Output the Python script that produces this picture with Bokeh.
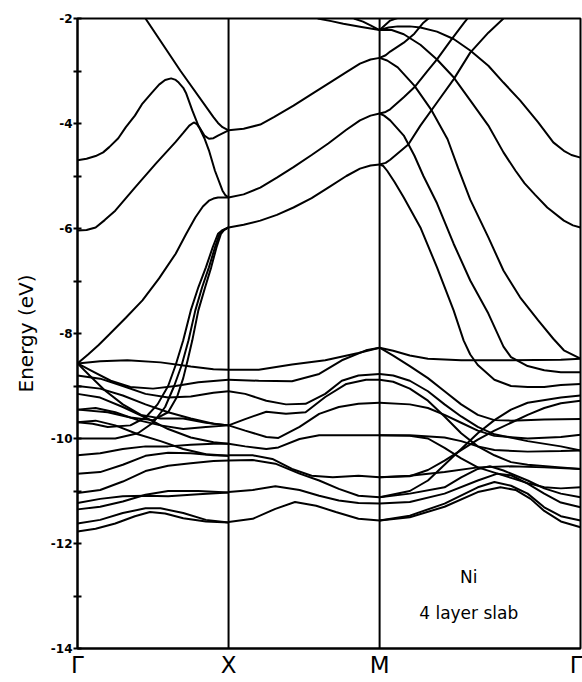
from bokeh.plotting import figure
from bokeh.models import FixedTicker, Span
from bokeh.embed import file_html
from bokeh.resources import INLINE
from bokeh.core.properties import value

# ---- high-symmetry points (path length units) ----
K_POINTS = [0.0, 1.0, 2.0, 3.33]
K_LABELS = ["Γ", "X", "M", "Γ"]

Y_TICKS = list(range(-14, -1))

# ---- bands, segment Γ–X : (k, E in eV) ----
GX_U1 = [(0.45, -2.0), (0.68, -2.99), (0.90, -3.88), (0.93, -3.99), (0.96, -4.07), (1.0, -4.13)]
GX_U2 = [(0.0, -4.70), (0.06, -4.67), (0.12, -4.62), (0.17, -4.55), (0.21, -4.45), (0.27, -4.28),
         (0.32, -4.07), (0.38, -3.85), (0.43, -3.62), (0.49, -3.42), (0.54, -3.26), (0.58, -3.17),
         (0.62, -3.14), (0.65, -3.17), (0.67, -3.22), (0.70, -3.32), (0.72, -3.43), (0.76, -3.75),
         (0.80, -4.04), (0.84, -4.23), (0.87, -4.29), (0.90, -4.28), (0.93, -4.23), (1.0, -4.13)]
GX_U3 = [(0.0, -6.04), (0.06, -6.03), (0.12, -5.98), (0.18, -5.84), (0.25, -5.66), (0.38, -5.22),
         (0.52, -4.76), (0.65, -4.35), (0.70, -4.18), (0.74, -4.04), (0.77, -3.98), (0.79, -4.01),
         (0.81, -4.10), (0.84, -4.28), (0.87, -4.51), (0.91, -4.90), (0.96, -5.28), (0.98, -5.37),
         (1.0, -5.41)]
GX_C = [(0.0, -8.57), (0.07, -8.40), (0.14, -8.22), (0.21, -8.02), (0.32, -7.70), (0.43, -7.37),
        (0.54, -6.95), (0.65, -6.48), (0.72, -6.10), (0.78, -5.79), (0.83, -5.58), (0.87, -5.47),
        (0.90, -5.43), (0.93, -5.41), (1.0, -5.41)]
GX_S1 = [(1.0, -5.98), (0.96, -6.03), (0.93, -6.10), (0.895, -6.36), (0.85, -6.74), (0.80, -7.12),
         (0.75, -7.56), (0.70, -8.13), (0.65, -8.60), (0.60, -9.00), (0.53, -9.35), (0.45, -9.60),
         (0.35, -9.75), (0.2, -9.78), (0.1, -9.72), (0.0, -9.69)]
GX_S2 = [(1.0, -5.98), (0.965, -6.03), (0.94, -6.10), (0.91, -6.36), (0.87, -6.74), (0.825, -7.12),
         (0.78, -7.56), (0.735, -8.13), (0.69, -8.60), (0.64, -9.00), (0.58, -9.40), (0.5, -9.70),
         (0.4, -9.90), (0.25, -10.0), (0.1, -10.0), (0.0, -10.0)]
GX_S3 = [(1.0, -5.98), (0.97, -6.03), (0.95, -6.10), (0.92, -6.36), (0.885, -6.74), (0.845, -7.12),
         (0.80, -7.56), (0.76, -8.13), (0.73, -8.50), (0.70, -8.85), (0.66, -9.20), (0.6, -9.50),
         (0.5, -9.65), (0.35, -9.60), (0.2, -9.50), (0.0, -9.45)]
GX_D1 = [(0.0, -8.57), (0.15, -8.53), (0.33, -8.51), (0.55, -8.55), (0.75, -8.63), (0.9, -8.68), (1.0, -8.69)]
GX_D2 = [(0.0, -8.57), (0.1, -8.72), (0.22, -8.90), (0.35, -9.02), (0.5, -9.05), (0.65, -9.00), (0.8, -8.93), (1.0, -8.88)]
GX_D3 = [(0.0, -8.80), (0.15, -8.86), (0.3, -9.00), (0.45, -9.15), (0.6, -9.22), (0.75, -9.20), (0.9, -9.13), (1.0, -9.10)]
GX_D4 = [(0.0, -8.57), (0.08, -8.80), (0.18, -9.08), (0.3, -9.35), (0.42, -9.55), (0.55, -9.62), (0.7, -9.62), (0.85, -9.70), (1.0, -9.75)]
GX_D5 = [(0.0, -9.00), (0.15, -9.05), (0.3, -9.18), (0.45, -9.35), (0.6, -9.50), (0.75, -9.62), (0.9, -9.72), (1.0, -9.75)]
GX_D6 = [(0.0, -9.15), (0.15, -9.22), (0.3, -9.40), (0.45, -9.60), (0.6, -9.82), (0.75, -9.98), (0.9, -10.07), (1.0, -10.10)]
GX_D7 = [(0.0, -9.45), (0.12, -9.42), (0.25, -9.50), (0.4, -9.65), (0.55, -9.75), (0.7, -9.82), (0.85, -9.78), (1.0, -9.75)]
GX_D8 = [(0.0, -9.69), (0.12, -9.66), (0.25, -9.75), (0.4, -9.92), (0.55, -10.05), (0.7, -10.20), (0.85, -10.30), (1.0, -10.33)]
GX_D9 = [(0.0, -10.32), (0.15, -10.28), (0.3, -10.20), (0.45, -10.15), (0.6, -10.15), (0.75, -10.12), (0.9, -10.10), (1.0, -10.10)]
GX_D10 = [(0.0, -10.67), (0.15, -10.64), (0.3, -10.50), (0.45, -10.33), (0.6, -10.27), (0.75, -10.28), (0.9, -10.32), (1.0, -10.33)]
GX_D11 = [(0.0, -11.04), (0.15, -10.98), (0.3, -10.82), (0.45, -10.62), (0.6, -10.52), (0.75, -10.47), (0.9, -10.43), (1.0, -10.42)]
GX_D12 = [(0.0, -11.23), (0.15, -11.15), (0.3, -11.10), (0.45, -11.09), (0.6, -11.10), (0.8, -11.06), (1.0, -11.03)]
GX_D13 = [(0.0, -11.35), (0.15, -11.30), (0.3, -11.20), (0.45, -11.07), (0.6, -11.00), (0.8, -11.00), (1.0, -11.03)]
GX_D14 = [(0.0, -11.62), (0.15, -11.55), (0.3, -11.42), (0.45, -11.33), (0.55, -11.33), (0.7, -11.42), (0.85, -11.55), (1.0, -11.60)]
GX_D15 = [(0.0, -11.77), (0.12, -11.72), (0.25, -11.62), (0.38, -11.48), (0.48, -11.40), (0.58, -11.43), (0.7, -11.52), (0.85, -11.58), (1.0, -11.60)]

# ---- bands, segment X–M ----
XM_U1 = [(1.0, -4.13), (1.1, -4.10), (1.21, -4.02), (1.3, -3.88), (1.43, -3.66), (1.55, -3.44),
         (1.66, -3.24), (1.78, -3.02), (1.87, -2.86), (1.94, -2.78), (2.0, -2.75)]
XM_U2 = [(1.0, -5.41), (1.1, -5.35), (1.21, -5.22), (1.32, -5.03), (1.43, -4.83), (1.55, -4.60),
         (1.66, -4.38), (1.78, -4.12), (1.87, -3.94), (1.94, -3.85), (2.0, -3.81)]
XM_U3 = [(1.0, -5.98), (1.1, -5.93), (1.21, -5.85), (1.32, -5.74), (1.43, -5.60), (1.55, -5.42),
         (1.66, -5.22), (1.78, -5.00), (1.87, -4.86), (1.94, -4.80), (2.0, -4.78)]
XM_U4 = [(1.59, -2.0), (1.68, -2.05), (1.76, -2.10), (1.88, -2.16), (2.0, -2.22)]
XM_U5 = [(1.83, -2.0), (1.89, -2.06), (1.94, -2.13), (2.0, -2.22)]
XM_D1 = [(1.0, -8.69), (1.2, -8.69), (1.42, -8.59), (1.64, -8.51), (1.86, -8.37), (2.0, -8.27)]
XM_D2 = [(1.0, -8.88), (1.2, -8.90), (1.42, -8.91), (1.6, -8.77), (1.75, -8.51), (1.91, -8.32), (2.0, -8.27)]
XM_D3 = [(1.0, -9.10), (1.11, -9.15), (1.25, -9.28), (1.38, -9.35), (1.51, -9.34), (1.64, -9.15),
         (1.75, -8.90), (1.86, -8.80), (2.0, -8.77)]
XM_D4 = [(1.0, -9.75), (1.11, -9.63), (1.25, -9.49), (1.38, -9.53), (1.51, -9.50), (1.64, -9.21),
         (1.78, -8.96), (1.91, -8.88), (2.0, -8.88)]
XM_D5 = [(1.0, -9.75), (1.11, -9.85), (1.25, -9.97), (1.33, -9.99), (1.47, -9.78), (1.6, -9.53),
         (1.73, -9.40), (1.86, -9.34), (2.0, -9.32)]
XM_D6 = [(1.0, -10.10), (1.11, -10.15), (1.25, -10.20), (1.33, -10.17), (1.47, -10.01), (1.6, -9.94),
         (1.78, -9.94), (2.0, -9.94)]
XM_D7 = [(1.0, -10.32), (1.16, -10.32), (1.29, -10.39), (1.42, -10.58), (1.55, -10.71), (1.69, -10.74),
         (1.86, -10.71), (2.0, -10.74)]
XM_D8 = [(1.0, -10.42), (1.16, -10.41), (1.31, -10.48), (1.47, -10.67), (1.6, -10.80), (1.73, -10.96),
         (1.86, -11.09), (2.0, -11.12)]
XM_D9 = [(1.0, -11.02), (1.16, -10.98), (1.31, -10.91), (1.47, -10.98), (1.6, -11.09), (1.73, -11.18),
         (1.86, -11.23), (2.0, -11.24)]
XM_D10 = [(1.0, -11.59), (1.16, -11.53), (1.31, -11.34), (1.44, -11.21), (1.58, -11.28), (1.71, -11.40),
          (1.86, -11.53), (2.0, -11.56)]

# ---- bands, segment M–Γ ----
MG_U1 = [(2.0, -2.22), (2.06, -2.17), (2.12, -2.15), (2.2, -2.15), (2.27, -2.17), (2.38, -2.25),
         (2.49, -2.39), (2.60, -2.61), (2.72, -2.90), (2.82, -3.22), (2.93, -3.56), (3.05, -3.98),
         (3.15, -4.36), (3.22, -4.52), (3.27, -4.60), (3.33, -4.65)]
MG_U2 = [(2.0, -2.22), (2.08, -2.22), (2.16, -2.30), (2.27, -2.50), (2.38, -2.78), (2.49, -3.12),
         (2.60, -3.56), (2.72, -4.04), (2.82, -4.55), (2.90, -4.90), (2.96, -5.14), (3.03, -5.36),
         (3.11, -5.60), (3.22, -5.85), (3.28, -5.94), (3.33, -5.98)]
MG_A1 = [(2.0, -4.78), (2.04, -4.75), (2.07, -4.69), (2.19, -4.40), (2.27, -4.04), (2.38, -3.60),
         (2.49, -3.16), (2.60, -2.65), (2.72, -2.27), (2.82, -2.0)]
MG_A2 = [(2.0, -3.81), (2.04, -3.78), (2.07, -3.73), (2.16, -3.50), (2.23, -3.31), (2.32, -2.99),
         (2.38, -2.78), (2.47, -2.42), (2.56, -2.08), (2.59, -1.97)]
MG_A3 = [(2.0, -2.75), (2.04, -2.70), (2.07, -2.63), (2.16, -2.46), (2.23, -2.29), (2.29, -2.08), (2.34, -1.96)]
MG_A4 = [(2.0, -2.22), (2.07, -2.04), (2.15, -1.96)]
MG_D1 = [(2.0, -4.78), (2.025, -4.81), (2.05, -4.90), (2.10, -5.12), (2.16, -5.41), (2.27, -5.98),
         (2.38, -6.74), (2.49, -7.56), (2.556, -8.13), (2.6, -8.40), (2.65, -8.60), (2.76, -8.88),
         (2.87, -9.00), (2.98, -9.02), (3.09, -9.02), (3.2, -8.98), (3.33, -8.96)]
MG_D2 = [(2.0, -3.81), (2.03, -3.85), (2.07, -3.94), (2.16, -4.23), (2.23, -4.61), (2.29, -5.00),
         (2.38, -5.52), (2.49, -6.29), (2.60, -6.99), (2.72, -7.62), (2.82, -8.25), (2.87, -8.45),
         (2.98, -8.62), (3.09, -8.70), (3.2, -8.74), (3.33, -8.74)]
MG_D3 = [(2.0, -2.75), (2.05, -2.80), (2.12, -2.93), (2.23, -3.28), (2.34, -3.73), (2.45, -4.30),
         (2.52, -4.85), (2.60, -5.45), (2.72, -6.17), (2.82, -6.80), (2.93, -7.31), (3.05, -7.75),
         (3.15, -8.10), (3.22, -8.32), (3.33, -8.48)]
MG_F0 = [(2.0, -8.27), (2.09, -8.33), (2.2, -8.42), (2.32, -8.48), (2.54, -8.51), (2.87, -8.51),
         (3.2, -8.50), (3.33, -8.48)]
MG_F1 = [(2.0, -8.27), (2.09, -8.42), (2.2, -8.62), (2.32, -8.85), (2.43, -9.10), (2.54, -9.35),
         (2.65, -9.55), (2.76, -9.65), (2.87, -9.66), (3.09, -9.64), (3.33, -9.63)]
MG_F2 = [(2.0, -8.77), (2.09, -8.80), (2.2, -8.90), (2.32, -9.10), (2.43, -9.35), (2.54, -9.58),
         (2.65, -9.78), (2.76, -9.92), (2.98, -10.05), (3.2, -10.15), (3.33, -10.23)]
MG_F3 = [(2.0, -8.88), (2.09, -8.92), (2.2, -9.05), (2.32, -9.28), (2.43, -9.58), (2.54, -9.90),
         (2.65, -10.15), (2.76, -10.32), (2.87, -10.45), (2.98, -10.50), (3.2, -10.55), (3.33, -10.58)]
MG_F4 = [(2.0, -9.32), (2.2, -9.35), (2.32, -9.42), (2.43, -9.55), (2.54, -9.70), (2.65, -9.85),
         (2.76, -9.95), (2.98, -10.00), (3.2, -9.97), (3.33, -9.93)]
MG_F5 = [(2.0, -9.94), (2.2, -9.95), (2.32, -10.00), (2.43, -10.18), (2.54, -10.38), (2.65, -10.55),
         (2.76, -10.65), (2.87, -10.75), (2.98, -10.85), (3.09, -10.93), (3.2, -10.95), (3.33, -10.93)]
MG_F6 = [(2.0, -9.94), (2.2, -9.94), (2.43, -9.98), (2.54, -10.05), (2.65, -10.15), (2.76, -10.22),
         (2.98, -10.25), (3.2, -10.24), (3.33, -10.23)]
MG_F7 = [(2.0, -10.74), (2.2, -10.72), (2.32, -10.60), (2.43, -10.42), (2.54, -10.22), (2.65, -10.02),
         (2.76, -9.85), (2.87, -9.70), (2.98, -9.55), (3.09, -9.42), (3.2, -9.33), (3.33, -9.28)]
MG_F8 = [(2.0, -10.74), (2.2, -10.71), (2.43, -10.64), (2.65, -10.55), (2.87, -10.53), (3.09, -10.55), (3.33, -10.58)]
MG_F9 = [(2.0, -11.12), (2.2, -11.00), (2.32, -10.80), (2.43, -10.50), (2.54, -10.20), (2.65, -9.90),
         (2.76, -9.65), (2.87, -9.45), (2.98, -9.32), (3.2, -9.22), (3.33, -9.18)]
MG_F10 = [(2.0, -11.12), (2.2, -11.05), (2.43, -10.93), (2.54, -10.74), (2.65, -10.58), (2.73, -10.53),
          (2.82, -10.61), (2.98, -10.80), (3.09, -10.95), (3.2, -11.05), (3.33, -11.12)]
MG_F11 = [(2.0, -11.24), (2.2, -11.21), (2.43, -11.05), (2.65, -10.80), (2.78, -10.67), (2.87, -10.70),
          (2.98, -10.86), (3.09, -11.05), (3.2, -11.22), (3.33, -11.31)]
MG_F12 = [(2.0, -11.56), (2.2, -11.47), (2.43, -11.24), (2.65, -10.93), (2.76, -10.83), (2.87, -10.90),
          (2.98, -11.05), (3.09, -11.31), (3.2, -11.48), (3.33, -11.56)]
MG_F13 = [(2.0, -11.56), (2.2, -11.50), (2.43, -11.30), (2.65, -11.02), (2.8, -10.93), (2.9, -10.98),
          (3.0, -11.15), (3.09, -11.38), (3.2, -11.58), (3.33, -11.69)]

BANDS = [GX_U1, GX_U2, GX_U3, GX_C, GX_S1, GX_S2, GX_S3,
         GX_D1, GX_D2, GX_D3, GX_D4, GX_D5, GX_D6, GX_D7, GX_D8, GX_D9, GX_D10,
         GX_D11, GX_D12, GX_D13, GX_D14, GX_D15,
         XM_U1, XM_U2, XM_U3, XM_U4, XM_U5,
         XM_D1, XM_D2, XM_D3, XM_D4, XM_D5, XM_D6, XM_D7, XM_D8, XM_D9, XM_D10,
         MG_U1, MG_U2, MG_A1, MG_A2, MG_A3, MG_A4, MG_D1, MG_D2, MG_D3,
         MG_F0, MG_F1, MG_F2, MG_F3, MG_F4, MG_F5, MG_F6, MG_F7, MG_F8, MG_F9,
         MG_F10, MG_F11, MG_F12, MG_F13]

NOTE_LINES = ["Ni", "4 layer slab"]
NOTE_K = [2.59, 2.59]
NOTE_E = [-12.63, -13.33]

FONT = "DejaVu Sans"

p = figure(width=582, height=682, x_range=(0, K_POINTS[-1]), y_range=(-14, -2),
           output_backend="svg", toolbar_location=None,
           min_border_left=77, min_border_right=2, min_border_top=18, min_border_bottom=34)
p.background_fill_color = "white"
p.border_fill_color = "white"
p.grid.visible = False
p.outline_line_color = "black"
p.outline_line_width = 2

for band in BANDS:
    ks = [b[0] for b in band]
    es = [b[1] for b in band]
    p.line(ks, es, line_color="black", line_width=2)

for kx in K_POINTS[1:3]:
    p.add_layout(Span(location=kx, dimension="height", line_color="black", line_width=2))

p.text(x=NOTE_K, y=NOTE_E, text=NOTE_LINES, text_font=value(FONT), text_font_size="17px",
       text_align="center", text_baseline="middle", text_color="black")

ya = p.yaxis[0]
ya.ticker = FixedTicker(ticks=Y_TICKS)
ya.major_label_overrides = {t: (str(t) if t % 2 == 0 else "") for t in Y_TICKS}
ya.major_tick_in = 4
ya.major_tick_out = 4
ya.major_tick_line_width = 2
ya.major_tick_line_color = "black"
ya.minor_tick_line_color = None
ya.axis_line_width = 2
ya.axis_line_color = "black"
ya.major_label_text_font = FONT
ya.major_label_text_font_style = "bold"
ya.major_label_text_font_size = "12px"
ya.major_label_text_color = "black"
ya.major_label_standoff = 1
ya.axis_label = "Energy (eV)"
ya.axis_label_text_font = FONT
ya.axis_label_text_font_style = "normal"
ya.axis_label_text_font_size = "20px"
ya.axis_label_text_color = "black"
ya.axis_label_standoff = 10

xa = p.xaxis[0]
xa.ticker = FixedTicker(ticks=K_POINTS)
xa.major_label_overrides = {k: lab for k, lab in zip(K_POINTS, K_LABELS)}
xa.major_tick_in = 0
xa.major_tick_out = 0
xa.minor_tick_line_color = None
xa.axis_line_width = 2
xa.axis_line_color = "black"
xa.major_label_text_font = FONT
xa.major_label_text_font_size = "23px"
xa.major_label_text_color = "black"
xa.major_label_standoff = 3

open("out.html", "w").write(file_html(p, INLINE))
